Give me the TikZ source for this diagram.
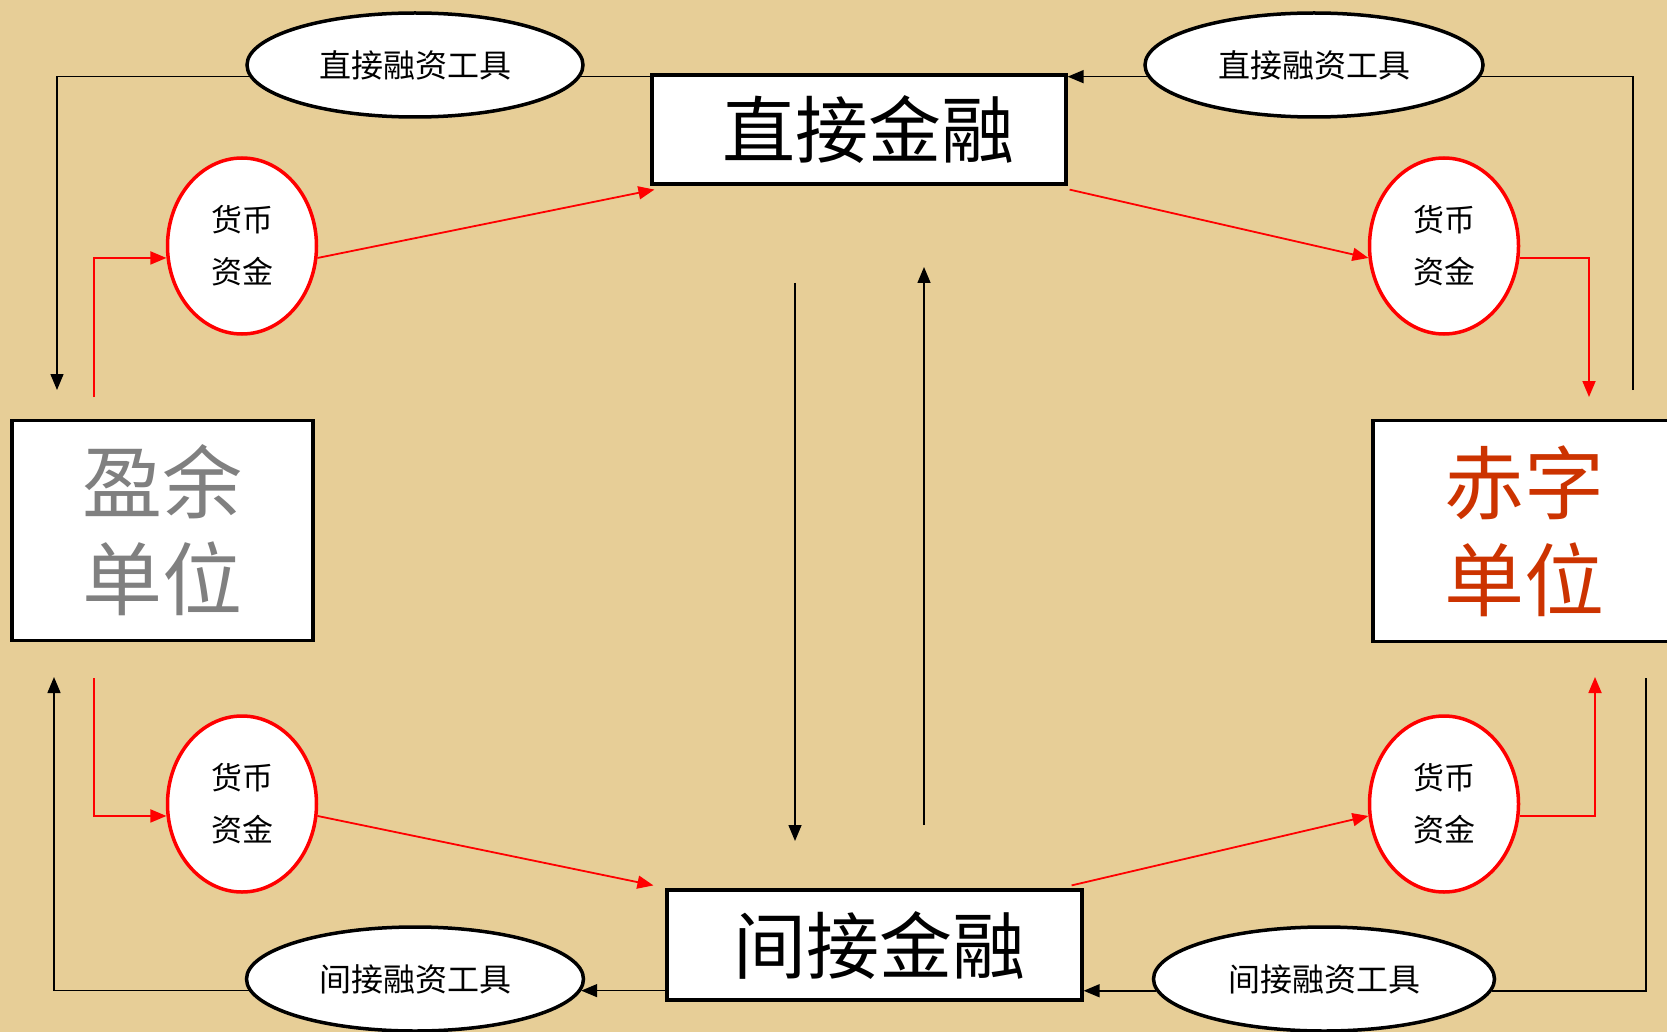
\documentclass[tikz,border=0pt]{standalone}
\usepackage{fontspec}
\setmainfont{Noto Sans CJK SC}
\usetikzlibrary{shapes.geometric,arrows.meta,calc}
\pgfdeclarelayer{paper}
\pgfdeclarelayer{background}
\pgfsetlayers{paper,background,main}
\definecolor{parch}{RGB}{231,206,151}
\definecolor{greytxt}{RGB}{128,128,128}
\definecolor{redtxt}{RGB}{204,51,0}
\begin{document}
\begin{tikzpicture}[x=1pt,y=-1pt,
  box/.style={rectangle, draw=black, line width=3.2pt, fill=white, inner sep=0pt},
  bigtext/.style={font=\fontsize{73}{80}\selectfont},
  unittext/.style={font=\fontsize{80}{97}\selectfont, align=center},
  blackell/.style={ellipse, draw=black, line width=3.5pt, fill=white, inner sep=0pt,
    minimum height=104pt, font=\fontsize{32}{36}\selectfont},
  redell/.style={ellipse, draw=red, line width=3.5pt, fill=white, inner sep=0pt,
    minimum width=149pt, minimum height=176pt, font=\fontsize{31}{52}\selectfont, align=center},
  conn/.style={draw=black, line width=1.5pt},
  rconn/.style={draw=red, line width=1.8pt},
  tip/.style={-{Triangle[length=16pt,width=13pt]}}
]
% paper
\begin{pgfonlayer}{paper}
  \fill[parch] (0,0) rectangle (1667,1032);
\end{pgfonlayer}
\useasboundingbox (0,0) rectangle (1667,1032);

% boxes
\node[box, bigtext, minimum width=414pt, minimum height=109pt] (direct) at (859,129.5) {\hspace*{18pt}直接金融};
\node[box, bigtext, minimum width=415pt, minimum height=110pt] (indirect) at (874.5,945) {\hspace*{10pt}间接金融};
\node[box, unittext, text=greytxt, minimum width=301pt, minimum height=220pt] (surplus) at (162.5,530.5) {盈余\\单位};
\node[box, unittext, text=redtxt, minimum width=302pt, minimum height=221pt] (deficit) at (1524,531) {赤字\\单位};

% instrument ellipses
\node[blackell, minimum width=336pt] (tl) at (415,65) {直接融资工具};
\node[blackell, minimum width=338pt] (tr) at (1314,65) {直接融资工具};
\node[blackell, minimum width=337pt] (bl) at (415,979) {间接融资工具};
\node[blackell, minimum width=341pt] (br) at (1324,979) {间接融资工具};

% money ellipses
\node[redell] (rtl) at (242,246) {货币\\资金};
\node[redell] (rtr) at (1444,246) {货币\\资金};
\node[redell] (rbl) at (242,804) {货币\\资金};
\node[redell] (rbr) at (1444,804) {货币\\资金};

% free ends
\coordinate (sTopIn) at (57,390);
\coordinate (sBotIn) at (54,677);
\coordinate (dTopOut) at (1633,390);
\coordinate (dBotOut) at (1646,678);
\coordinate (sTopOut) at (94,397);
\coordinate (sBotOut) at (94,678);
\coordinate (dTopIn) at (1589,397);
\coordinate (dBotIn) at (1595,677);
\coordinate (midDownA) at (795,283);
\coordinate (midDownB) at (795,841);
\coordinate (midUpA) at (924,825);
\coordinate (midUpB) at (924,267);

\begin{pgfonlayer}{background}
  % direct finance instruments
  \draw[conn] (direct.west |- tl.-4.2) -- (tl.-4.2);
  \draw[conn, tip] (tl.184.2) -| (sTopIn);
  \draw[conn] (dTopOut) |- (tr.-4.2);
  \draw[conn, tip] (tr.184.2) -- (direct.east |- tr.184.2);
  % indirect finance instruments
  \draw[conn, tip] (indirect.west |- bl.-4.6) -- (bl.-4.6);
  \draw[conn, tip] (bl.184.6) -| (sBotIn);
  \draw[conn] (dBotOut) |- (br.-4.5);
  \draw[conn, tip] (br.184.5) -- (indirect.east |- br.184.5);
  % middle
  \draw[conn, tip] (midDownA) -- (midDownB);
  \draw[conn, tip] (midUpA) -- (midUpB);
\end{pgfonlayer}

% money flows
\draw[rconn, tip] (sTopOut) |- (rtl.189.2);
\draw[rconn, tip] (rtl.-9.2) -- ($(direct.south west)+(4,4)$);
\draw[rconn, tip] ($(direct.south east)+(2,4)$) -- (rtr.189.2);
\draw[rconn, tip] (rtr.-9.2) -| (dTopIn);
\draw[rconn, tip] (sBotOut) |- (rbl.189.2);
\draw[rconn, tip] (rbl.-9.2) -- ($(indirect.north west)+(-12,-3)$);
\draw[rconn, tip] ($(indirect.north east)+(-12,-3)$) -- (rbr.189.2);
\draw[rconn, tip] (rbr.-9.2) -| (dBotIn);
\end{tikzpicture}
\end{document}
